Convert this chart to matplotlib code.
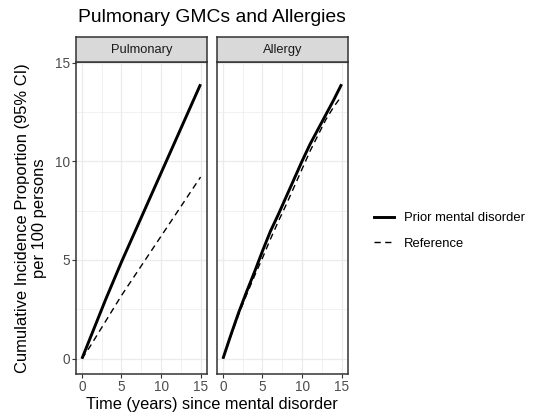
import matplotlib
matplotlib.use('Agg')
import matplotlib.pyplot as plt
from matplotlib.lines import Line2D

plt.rcParams['font.family'] = ['Liberation Sans', 'DejaVu Sans']

# data (cumulative incidence per 100 persons)
years = [0, 1, 2, 3, 4, 5, 6, 7, 8, 9, 10, 11, 12, 13, 14, 15]
pulm_prior = [0, 1.0, 2.0, 3.0, 3.95, 4.9, 5.8, 6.7, 7.6, 8.5, 9.4, 10.3, 11.2, 12.1, 13.0, 13.9]
pulm_ref = [0, 0.6, 1.25, 1.9, 2.55, 3.2, 3.8, 4.4, 5.0, 5.6, 6.2, 6.8, 7.4, 8.0, 8.6, 9.2]
allergy_prior = [0, 1.2, 2.35, 3.4, 4.4, 5.45, 6.45, 7.3, 8.2, 9.1, 10.0, 10.85, 11.6, 12.35, 13.1, 13.9]
allergy_ref = [0, 1.15, 2.25, 3.25, 4.2, 5.1, 6.05, 6.95, 7.8, 8.7, 9.6, 10.5, 11.3, 12.1, 12.75, 13.3]

panels = ['Pulmonary', 'Allergy']
series = {'Pulmonary': (pulm_prior, pulm_ref), 'Allergy': (allergy_prior, allergy_ref)}
ticks = [0, 5, 10, 15]
minor = [2.5, 7.5, 12.5]

W, H = 535, 415
fig = plt.figure(figsize=(W / 100, H / 100), dpi=100)

def px_box(x0, y0, x1, y1):
    return [x0 / W, 1 - y1 / H, (x1 - x0) / W, (y1 - y0) / H]

DASH = (4.5, 3.2)
lefts = [76, 217]
for i, name in enumerate(panels):
    x0 = lefts[i]
    ax = fig.add_axes(px_box(x0, 62.5, x0 + 130.5, 373.5))
    prior, ref = series[name]
    for v in minor:
        ax.axvline(v, color='#EBEBEB', lw=0.5, zorder=0)
        ax.axhline(v, color='#EBEBEB', lw=0.5, zorder=0)
    for v in ticks:
        ax.axvline(v, color='#EBEBEB', lw=0.9, zorder=0)
        ax.axhline(v, color='#EBEBEB', lw=0.9, zorder=0)
    ax.plot(years, prior, color='black', lw=2.1, solid_capstyle='butt', zorder=3)
    ax.plot(years, ref, color='black', lw=1.0, dashes=DASH, zorder=2)
    ax.set_xlim(-0.75, 15.75)
    ax.set_ylim(-0.75, 15)
    ax.set_xticks(ticks)
    ax.set_yticks(ticks)
    ax.tick_params(length=3, width=0.8, color='#333333', labelcolor='#4D4D4D',
                   labelsize=9.8, pad=1.5)
    if i > 0:
        ax.tick_params(axis='y', left=False, labelleft=False)
    for s in ax.spines.values():
        s.set_color('#333333')
        s.set_linewidth(1.1)
    # facet strip
    st = fig.add_axes(px_box(x0, 37, x0 + 130.5, 62.5))
    st.set_facecolor('#D9D9D9')
    st.set_xticks([])
    st.set_yticks([])
    for s in st.spines.values():
        s.set_color('#333333')
        s.set_linewidth(1.1)
    st.text(0.5, 0.5, name, ha='center', va='center', fontsize=9.3, color='#1A1A1A',
            transform=st.transAxes)

fig.text(211.5 / W, 1 - 18 / H, 'Pulmonary GMCs and Allergies', ha='center', va='center',
         fontsize=13.9)
fig.text(211.5 / W, 1 - 404 / H, 'Time (years) since mental disorder', ha='center',
         va='center', fontsize=11.8)
fig.text(31 / W, 1 - 218 / H, 'Cumulative Incidence Proportion (95% CI)\nper 100 persons',
         ha='center', va='center', rotation=90, fontsize=11.9, linespacing=1.1)

handles = [Line2D([], [], color='black', lw=2.1),
           Line2D([], [], color='black', lw=1.0, dashes=DASH)]
fig.legend(handles, ['Prior mental disorder', 'Reference'], loc='center left',
           bbox_to_anchor=(362 / W, 1 - 231 / H), frameon=False, fontsize=9.4,
           handlelength=1.55, handletextpad=0.75, labelspacing=1.0)

fig.savefig('out.png', dpi=100)
